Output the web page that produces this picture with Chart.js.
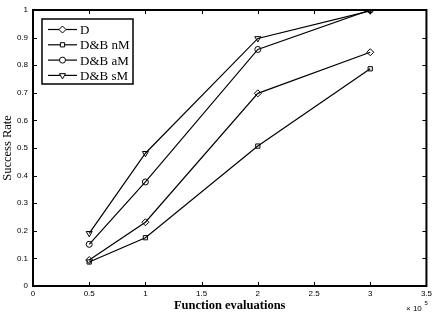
<!DOCTYPE html>
<html>
<head>
<meta charset="utf-8">
<script src="https://cdn.jsdelivr.net/npm/chart.js@4/dist/chart.umd.min.js"></script>
<style>
html, body { margin: 0; padding: 0; background: #fff; }
</style>
</head>
<body>
<canvas id="c" width="435" height="318"></canvas>
<script>
// function evaluations (x 10^5 shown on axis)
var evals = [50000, 100000, 200000, 300000];
var names = ['D', 'D&B nM', 'D&B aM', 'D&B sM'];
var rateD = [0.094, 0.231, 0.698, 0.847];
var rateNM = [0.087, 0.175, 0.507, 0.787];
var rateAM = [0.151, 0.377, 0.857, 1.0];
var rateSM = [0.191, 0.481, 0.897, 0.997];
var markers = ['rectRot', 'rect', 'circle', 'triangle'];
var markerRot = [0, 0, 0, 180];
var markerSize = [3.5, 3, 3, 3.5];

var allRates = [rateD, rateNM, rateAM, rateSM];

function pts(vals) {
  var out = [];
  for (let i = 0; i < evals.length; i++) out.push({ x: evals[i], y: vals[i] });
  return out;
}

var datasets = [];
for (let i = 0; i < names.length; i++) {
  datasets.push({
    label: names[i],
    data: pts(allRates[i]),
    borderColor: '#000',
    borderWidth: 1.2,
    backgroundColor: 'rgba(0,0,0,0)',
    pointStyle: markers[i],
    pointRotation: markerRot[i],
    pointRadius: markerSize[i],
    pointBorderWidth: 1,
    pointBorderColor: '#000',
    pointBackgroundColor: 'rgba(0,0,0,0)',
    tension: 0
  });
}

// inside ticks, box frame, legend and exponent
var matlabLook = {
  id: 'matlabLook',
  afterDatasetsDraw: function (chart) {
    var ctx = chart.ctx;
    var a = chart.chartArea;
    var xs = chart.scales.x, ys = chart.scales.y;
    ctx.save();
    ctx.strokeStyle = '#000';
    ctx.lineWidth = 1;
    ctx.beginPath();
    xs.ticks.forEach(function (t) {
      var px = Math.round(xs.getPixelForValue(t.value)) + 0.5;
      ctx.moveTo(px, a.bottom); ctx.lineTo(px, a.bottom - 4);
      ctx.moveTo(px, a.top); ctx.lineTo(px, a.top + 4);
    });
    ys.ticks.forEach(function (t) {
      var py = Math.round(ys.getPixelForValue(t.value)) + 0.5;
      ctx.moveTo(a.left, py); ctx.lineTo(a.left + 4, py);
      ctx.moveTo(a.right, py); ctx.lineTo(a.right - 4, py);
    });
    ctx.stroke();
    ctx.lineWidth = 2;
    ctx.strokeRect(a.left, a.top, a.right - a.left, a.bottom - a.top);

    // legend
    var lx = a.left + 9, ly = a.top + 9, lw = 91, lh = 65;
    ctx.fillStyle = '#fff';
    ctx.fillRect(lx, ly, lw, lh);
    ctx.lineWidth = 1.5;
    ctx.strokeRect(lx, ly, lw, lh);
    ctx.font = '13px "Liberation Serif", "Times New Roman", serif';
    ctx.textBaseline = 'middle';
    ctx.textAlign = 'left';
    for (let i = 0; i < names.length; i++) {
      var yy = ly + 10.5 + i * 15.3;
      ctx.strokeStyle = '#000';
      ctx.lineWidth = 1.2;
      ctx.beginPath();
      ctx.moveTo(lx + 6, yy); ctx.lineTo(lx + 35, yy);
      ctx.stroke();
      ctx.lineWidth = 1;
      ctx.fillStyle = '#fff';
      Chart.helpers.drawPoint(ctx, {
        pointStyle: markers[i],
        rotation: markerRot[i],
        radius: markerSize[i],
        borderWidth: 1
      }, lx + 20.5, yy);
      ctx.fillStyle = '#000';
      ctx.fillText(names[i], lx + 38, yy + 1);
    }

    // x 10^5
    ctx.fillStyle = '#000';
    ctx.font = '8px "Liberation Sans", Arial, sans-serif';
    ctx.textBaseline = 'alphabetic';
    ctx.fillText('\u00d7 10', 406, 311);
    ctx.font = '6px "Liberation Sans", Arial, sans-serif';
    ctx.fillText('5', 424.5, 305);
    ctx.restore();
  }
};

var tickFont = { family: '"Liberation Sans", Arial, sans-serif', size: 8 };

new Chart(document.getElementById('c'), {
  type: 'line',
  data: { datasets: datasets },
  plugins: [matlabLook],
  options: {
    responsive: false,
    animation: false,
    layout: { padding: { top: 10, right: 7, left: 0, bottom: 0 } },
    plugins: { legend: { display: false }, tooltip: { enabled: false } },
    scales: {
      x: {
        type: 'linear',
        min: 0,
        max: 350000,
        afterFit: function (s) { s.height = 32; },
        grid: { display: false, drawTicks: false, tickLength: 0 },
        border: { display: false },
        ticks: {
          stepSize: 50000,
          padding: 3,
          color: '#000',
          font: tickFont,
          maxRotation: 0,
          autoSkip: false,
          callback: function (v) { return String(Math.round(v / 10000) / 10); }
        },
        title: {
          display: true,
          text: 'Function evaluations',
          color: '#000',
          font: { family: '"Liberation Serif", "Times New Roman", serif', size: 12.5, weight: 'bold' },
          padding: { top: 0, bottom: 5 }
        }
      },
      y: {
        min: 0,
        max: 1,
        afterFit: function (s) { s.width = 33; },
        grid: { display: false, drawTicks: false, tickLength: 0 },
        border: { display: false },
        ticks: {
          stepSize: 0.1,
          padding: 5,
          color: '#000',
          font: tickFont,
          callback: function (v) { return String(Math.round(v * 10) / 10); }
        },
        title: {
          display: true,
          text: 'Success Rate',
          color: '#000',
          font: { family: '"Liberation Serif", "Times New Roman", serif', size: 12.5 },
          padding: { top: 0, bottom: 0 }
        }
      }
    }
  }
});
</script>
</body>
</html>
